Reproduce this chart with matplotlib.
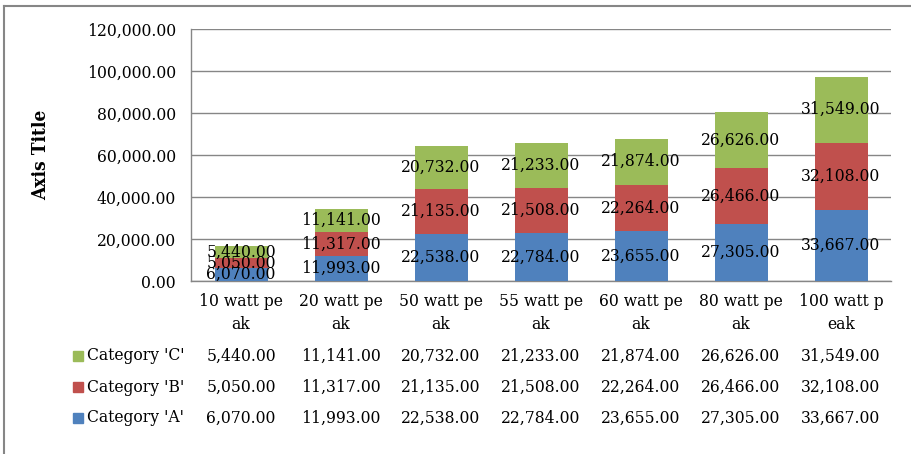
import matplotlib.pyplot as plt
from matplotlib.lines import Line2D
from matplotlib.patches import Rectangle
from matplotlib.transforms import blended_transform_factory

categories = ["10 watt pe\nak", "20 watt pe\nak", "50 watt pe\nak", "55 watt pe\nak",
              "60 watt pe\nak", "80 watt pe\nak", "100 watt p\neak"]
cat_a = [6070, 11993, 22538, 22784, 23655, 27305, 33667]
cat_b = [5050, 11317, 21135, 21508, 22264, 26466, 32108]
cat_c = [5440, 11141, 20732, 21233, 21874, 26626, 31549]
series_names = ["Category 'A'", "Category 'B'", "Category 'C'"]
colors = ["#4F81BD", "#C0504D", "#9BBB59"]
yticks = [0, 20000, 40000, 60000, 80000, 100000, 120000]

W, H = 911, 454
FS = 12.5
GRID = "#868686"

plt.rcParams["font.family"] = "DejaVu Serif"
plt.rcParams["font.stretch"] = "condensed"

fig = plt.figure(figsize=(W / 100, H / 100), dpi=100)
ax = fig.add_axes([191 / W, 1 - 281 / H, 700 / W, 252 / H])

x = list(range(len(categories)))
series = [cat_a, cat_b, cat_c]
bottom = [0] * len(x)
for vals, color in zip(series, colors):
    ax.bar(x, vals, width=0.53, bottom=bottom, color=color, zorder=3)
    for xi, v, b in zip(x, vals, bottom):
        ax.text(xi, b + v / 2, f"{v:,.2f}", ha="center", va="center",
                fontsize=FS, color="black", zorder=4)
    bottom = [b + v for b, v in zip(bottom, vals)]

ax.set_xlim(-0.5, len(x) - 0.5)
ax.set_ylim(0, 120000)
ax.set_yticks(yticks)
ax.set_yticklabels([f"{t:,.2f}" for t in yticks], fontsize=FS)
ax.yaxis.grid(True, color=GRID, linewidth=1.0, zorder=0)
ax.set_xticks(x)
ax.set_xticklabels(categories, fontsize=FS, linespacing=1.5)
ax.tick_params(axis="y", length=0, pad=11)
ax.tick_params(axis="x", length=0, pad=8.5)
for side in ["top", "right"]:
    ax.spines[side].set_visible(False)
for side in ["left", "bottom"]:
    ax.spines[side].set_color(GRID)
    ax.spines[side].set_linewidth(1.0)

fig.text(41 / W, 1 - 155 / H, "Axis Title", rotation=90, ha="center", va="center",
         fontsize=13.8, fontweight="bold")

# data table under the axis
trans = blended_transform_factory(ax.transData, fig.transFigure)
row_y = {"Category 'C'": 356, "Category 'B'": 387, "Category 'A'": 418}
for name, vals, color in zip(series_names, series, colors):
    yf = 1 - row_y[name] / H
    for xi, v in zip(x, vals):
        ax.text(xi, yf, f"{v:,.2f}", transform=trans, ha="center", va="center",
                fontsize=FS, clip_on=False)
    fig.text(87 / W, yf, name, ha="left", va="center", fontsize=FS)
    fig.patches.append(Rectangle((73 / W, yf - 5 / H), 10 / W, 10 / H,
                                 transform=fig.transFigure, color=color))

# chart frame
fig.add_artist(Line2D([4 / W, 4 / W], [0, 1 - 6 / H], color=GRID, lw=1.5,
                      transform=fig.transFigure))
fig.add_artist(Line2D([4 / W, 1], [1 - 6 / H, 1 - 6 / H], color=GRID, lw=1.5,
                      transform=fig.transFigure))

fig.savefig("out.png", dpi=100)
